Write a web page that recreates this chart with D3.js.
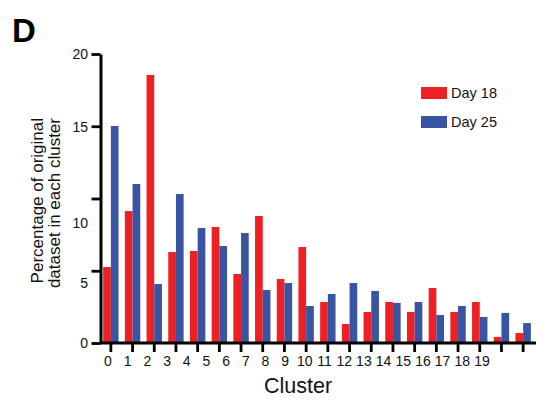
<!DOCTYPE html>
<html>
<head>
<meta charset="utf-8">
<script src="https://cdn.jsdelivr.net/npm/d3@7"></script>
<style>
  body { margin: 0; background: #fff; }
  svg { display: block; font-family: "Liberation Sans", Arial, sans-serif; }
</style>
</head>
<body>
<div id="chart"></div>
<script>
// data (percent of original dataset per cluster)
const clusters = ['0', '1', '2', '3', '4', '5', '6', '7', '8', '9',
  '10', '11', '12', '13', '14', '15', '16', '17', '18', '19'];
const day18 = [5.26, 9.13, 18.55, 6.30, 6.37, 8.03, 4.78, 8.79, 4.43, 6.64,
  2.84, 1.31, 2.15, 2.84, 2.15, 3.81, 2.15, 2.84, 0.42, 0.69];
const day25 = [15.02, 11.0, 4.08, 10.31, 7.96, 6.71, 7.61, 3.67, 4.15, 2.56,
  3.39, 4.15, 3.60, 2.77, 2.84, 1.94, 2.56, 1.80, 2.08, 1.38];
const seriesNames = ['Day 18', 'Day 25'];
const seriesColors = ['#ed2024', '#3a54a4'];
const yTicks = [0, 5, 10, 15, 20];

const width = 548, height = 412;

const svg = d3.select('#chart')
  .append('svg')
  .attr('width', width)
  .attr('height', height);

const x = d3.scaleBand()
  .domain(clusters)
  .range([100, 534]);

const xInner = d3.scaleBand()
  .domain(seriesNames)
  .range([0, x.bandwidth()])
  .paddingOuter(0.41);

const y = d3.scaleLinear()
  .domain([0, 20])
  .range([343, 54]);

// the printed labels in the figure sit off their ticks, so they get their own scales
const xLabel = d3.scalePoint()
  .domain(clusters)
  .range([108, 482]);

const yLabel = d3.scaleLinear()
  .domain(yTicks)
  .range([343, 283, 223, 127, 54]);

const color = d3.scaleOrdinal()
  .domain(seriesNames)
  .range(seriesColors);

const rows = clusters.map((c, i) => ({
  cluster: c,
  values: [
    { key: seriesNames[0], value: day18[i] },
    { key: seriesNames[1], value: day25[i] }
  ]
}));

// Bars
svg.append('g')
  .selectAll('g')
  .data(rows)
  .join('g')
  .attr('transform', d => `translate(${x(d.cluster)},0)`)
  .selectAll('rect')
  .data(d => d.values)
  .join('rect')
  .attr('x', d => xInner(d.key))
  .attr('width', xInner.bandwidth())
  .attr('y', d => y(d.value))
  .attr('height', d => y(0) - y(d.value))
  .attr('fill', d => color(d.key));

// Y axis
const yAxis = svg.append('g')
  .attr('transform', 'translate(100.5,0)')
  .call(d3.axisLeft(y).tickValues(yTicks).tickSize(9).tickSizeOuter(0).tickFormat(''));

yAxis.select('.domain').attr('stroke', '#000').attr('stroke-width', 3);
yAxis.selectAll('.tick line').attr('stroke', '#000').attr('stroke-width', 2.8);

svg.append('g')
  .selectAll('text')
  .data(yTicks)
  .join('text')
  .attr('x', 88)
  .attr('y', d => yLabel(d))
  .attr('dy', '0.36em')
  .attr('text-anchor', 'end')
  .attr('font-size', 14)
  .attr('fill', '#111')
  .text(d => d);

// X axis
const xAxis = svg.append('g')
  .attr('transform', `translate(0,${y(0)})`)
  .call(d3.axisBottom(x).tickSize(9).tickSizeOuter(0).tickFormat(''));

xAxis.select('.domain')
  .attr('d', `M${x.range()[0]},0H${x.range()[1] + 2}`)
  .attr('stroke', '#000')
  .attr('stroke-width', 3);
xAxis.selectAll('.tick line').attr('stroke', '#000').attr('stroke-width', 2.8);

svg.append('g')
  .selectAll('text')
  .data(clusters)
  .join('text')
  .attr('x', d => xLabel(d))
  .attr('y', 366)
  .attr('text-anchor', 'middle')
  .attr('font-size', 14)
  .attr('fill', '#111')
  .text(d => d);

// Axis titles
svg.append('text')
  .attr('x', 298)
  .attr('y', 393)
  .attr('text-anchor', 'middle')
  .attr('font-size', 21.5)
  .attr('fill', '#111')
  .text('Cluster');

const yTitle = svg.append('text')
  .attr('transform', 'translate(43,118) rotate(-90)')
  .attr('text-anchor', 'end')
  .attr('font-size', 17)
  .attr('fill', '#111');

yTitle.append('tspan').attr('x', 0).attr('y', 0).text('Percentage of original');
yTitle.append('tspan').attr('x', 0).attr('y', 17).text('dataset in each cluster');

// Panel letter
svg.append('text')
  .attr('x', 12)
  .attr('y', 42)
  .attr('font-size', 33)
  .attr('font-weight', 'bold')
  .attr('fill', '#000')
  .text('D');

// Legend
const legend = svg.append('g')
  .attr('transform', 'translate(421,87)')
  .selectAll('g')
  .data(seriesNames)
  .join('g')
  .attr('transform', (d, i) => `translate(0,${i * 29})`);

legend.append('rect')
  .attr('width', 26)
  .attr('height', 12)
  .attr('fill', d => color(d));

legend.append('text')
  .attr('x', 30)
  .attr('y', 11)
  .attr('font-size', 14.5)
  .attr('fill', '#111')
  .text(d => d);
</script>
</body>
</html>
